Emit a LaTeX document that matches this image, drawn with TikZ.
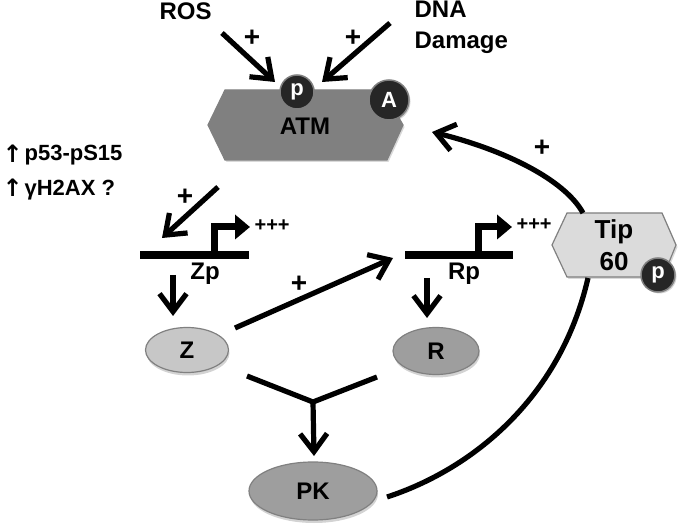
\documentclass[tikz,border=0pt]{standalone}
\usepackage{fontspec}
\setmainfont{Liberation Sans}
\newfontfamily\symfont{DejaVu Sans}
\usepackage{tikz}
\usetikzlibrary{arrows.meta,shapes,shadows}

\definecolor{atmgray}{gray}{0.50}
\definecolor{tipgray}{gray}{0.86}
\definecolor{zgray}{gray}{0.78}
\definecolor{rgray}{gray}{0.62}
\definecolor{edgegray}{gray}{0.50}
\definecolor{dotgray}{gray}{0.15}

\begin{document}
\begin{tikzpicture}[x=1pt,y=-1pt,line width=5.2pt,
    >={Straight Barb[length=18pt,width=27pt]},
    every node/.style={font=\bfseries\fontsize{24}{31}\selectfont,inner sep=0pt},
    act/.style={->},
    plus/.style={font=\bfseries\fontsize{28}{30}\selectfont},
    many/.style={font=\bfseries\fontsize{20}{22}\selectfont},
    bar/.style={line width=8pt},
    prom/.style={line width=7pt,-{Triangle[length=15pt,width=24pt]}},
    blob/.style={ellipse,draw=edgegray,line width=1.2pt,
                 drop shadow={opacity=0.35,shadow xshift=1pt,shadow yshift=-3pt}},
    dot/.style={circle,fill=dotgray,draw=edgegray,line width=1.5pt,text=white,
                inner sep=0pt,font=\bfseries\fontsize{22}{24}\selectfont,
                drop shadow={opacity=0.35,shadow xshift=1.5pt,shadow yshift=-1.5pt}},
    hexa/.style={draw=edgegray,line width=1.2pt,
                 drop shadow={opacity=0.3,shadow xshift=1.5pt,shadow yshift=-2pt}}]

  \useasboundingbox (0,0) rectangle (680,526);

  % inputs
  \node[anchor=base west] (ros) at (157,20) {ROS};
  \node[anchor=base west,align=left] (dna) at (412,49) {DNA\\Damage};

  % ATM
  \path[hexa,fill=atmgray] (208,125) -- (225,90) -- (383,90) -- (403,125)
        -- (387,160) -- (225,160) -- cycle;
  \node[anchor=base] (atm) at (305,135) {ATM};
  \node[dot,minimum size=34pt] (pa) at (297,92) {p};
  \node[dot,minimum size=40pt] (aa) at (389,100) {A};

  % readouts
  \node[anchor=base west] (up1) at (0,163) {\symfont ↑};
  \node[anchor=base west,font=\bfseries\fontsize{22}{24}\selectfont] (p53) at (22,161) {p53-pS15};
  \node[anchor=base west] (up2) at (0,197) {\symfont ↑};
  \node[anchor=base west,font=\bfseries\fontsize{22}{24}\selectfont] (h2ax) at (22,196) {γH2AX ?};

  % promoters
  \coordinate (zpl) at (140,255);
  \coordinate (zpr) at (249,255);
  \coordinate (zps) at (214,255);
  \coordinate (zpc) at (214,227);
  \coordinate (zpt) at (250,227);
  \draw[bar] (zpl) -- (zpr);
  \draw[prom] (zps) -- (zpc) -- (zpt);
  \node[many,anchor=west] (zplus) at (252,226) {+++};
  \node[anchor=base] (zp) at (205,280) {Zp};

  \coordinate (rpl) at (405,255);
  \coordinate (rpr) at (513,255);
  \coordinate (rps) at (478,255);
  \coordinate (rpc) at (478,227);
  \coordinate (rpt) at (512,227);
  \draw[bar] (rpl) -- (rpr);
  \draw[prom] (rps) -- (rpc) -- (rpt);
  \node[many,anchor=west] (rplus) at (514,225) {+++};
  \node[anchor=base] (rp) at (464,280) {Rp};

  % Tip60
  \path[hexa,fill=tipgray] (552,245) -- (567,213) -- (662,213) -- (676,245)
        -- (663,277) -- (567,277) -- cycle;
  \node[align=center,font=\bfseries\fontsize{26}{32}\selectfont,anchor=base] (tip) at (614,271) {Tip\\60};
  \node[dot,minimum size=34pt] (pt) at (658,275) {p};

  % products
  \node[blob,fill=zgray,minimum width=83pt,minimum height=45pt] (z) at (187,350) {Z};
  \node[blob,fill=rgray,minimum width=86pt,minimum height=47pt] (r) at (436,351) {R};
  \node[blob,fill=rgray,minimum width=128pt,minimum height=58pt] (pk) at (313,491) {PK};

  % connector ends
  \coordinate (rosin)  at (222,33);  \coordinate (rostip) at (275,82);
  \coordinate (dnain)  at (390,23);  \coordinate (dnatip) at (322,82);
  \coordinate (atmout) at (218,187); \coordinate (zptip)  at (162,238);
  \coordinate (zpout)  at (173,275); \coordinate (ztip)   at (173,316);
  \coordinate (rpout)  at (427,278); \coordinate (rtip)   at (427,318);
  \coordinate (zout)   at (235,328); \coordinate (rptip)  at (393,258);
  \coordinate (zarm)   at (247,376); \coordinate (rarm)   at (377,377);
  \coordinate (join)   at (313,402); \coordinate (pktip)  at (314,456);
  \coordinate (tipout) at (583,213); \coordinate (atmtip) at (432,132);
  \coordinate (tipbot) at (588,278); \coordinate (pkend)  at (387,497);

  \path[act] (rosin)  edge (rostip)
             (dnain)  edge (dnatip)
             (atmout) edge (zptip)
             (zpout)  edge (ztip)
             (rpout)  edge (rtip)
             (zout)   edge (rptip)
             (join)   edge (pktip);
  \draw (zarm) -- (join) -- (rarm);
  \draw[act] (tipout) .. controls (565,180) and (505,150) .. (atmtip);
  \draw (tipbot) .. controls (560,400) and (470,470) .. (pkend);

  % signs
  \node[plus] (s1) at (252,38)  {+};
  \node[plus] (s2) at (353,38)  {+};
  \node[plus] (s3) at (185,197) {+};
  \node[plus] (s4) at (299,284) {+};
  \node[plus] (s5) at (542,148) {+};
\end{tikzpicture}
\end{document}
